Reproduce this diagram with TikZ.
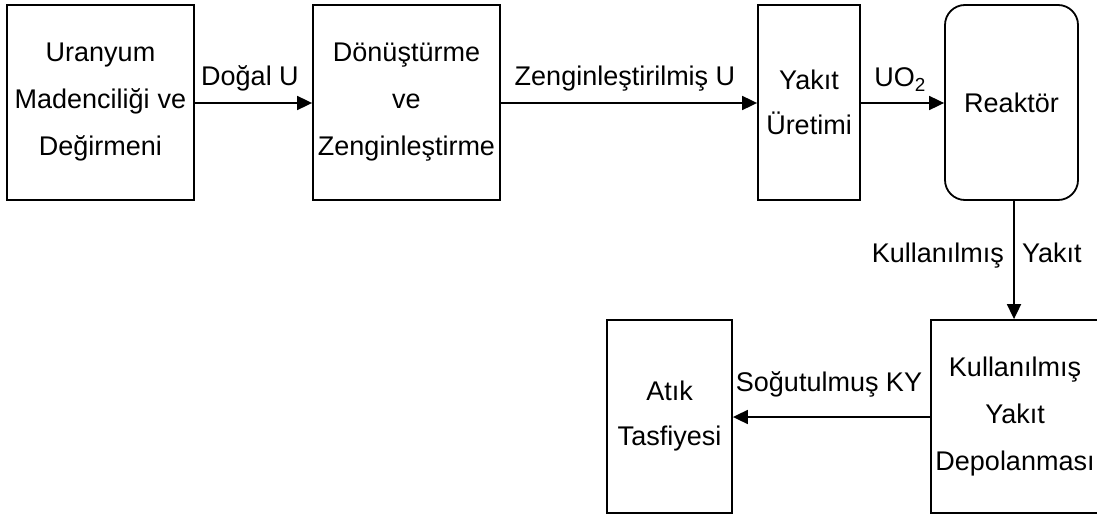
\documentclass[tikz,border=0pt]{standalone}
\usepackage{fontspec}
\setmainfont{Liberation Sans}
\usetikzlibrary{arrows.meta}
\begin{document}
\begin{tikzpicture}[x=1pt,y=-1pt,
  box/.style={draw,line width=1.8pt,inner sep=0pt,align=center,font=\fontsize{27}{47}\selectfont},
  lbl/.style={inner sep=0pt,anchor=base,font=\fontsize{27}{30}\selectfont},
  arr/.style={line width=1.8pt,-{Triangle[length=15pt,width=14pt]}}]
\useasboundingbox (0,0) rectangle (1097,516);
\node[box,minimum width=187pt,minimum height=195pt] (mine) at (100.5,102.5) {Uranyum\\Madenciliği\hspace{8pt}ve\\Değirmeni};
\node[box,minimum width=187pt,minimum height=195pt] (conv) at (406.5,102.5) {Dönüştürme\\ve\\Zenginleştirme};
\node[box,minimum width=102pt,minimum height=195pt,font=\fontsize{27}{45}\selectfont] (fab) at (809,102.5) {Yakıt\\Üretimi};
\node[box,rounded corners=20pt,minimum width=133pt,minimum height=195pt] (reac) at (1011.5,102.5) {Reaktör};
\node[box,minimum width=168pt,minimum height=193pt] (stor) at (1015,416.5) {Kullanılmış\\Yakıt\\Depolanması};
\node[box,minimum width=125pt,minimum height=193pt,font=\fontsize{27}{45}\selectfont] (waste) at (669.5,416.5) {Atık\\Tasfiyesi};
\draw[arr] (mine.east |- 0,103) -- (conv.west |- 0,103);
\node[lbl] (l1) at (250,86) {Doğal U};
\draw[arr] (conv.east |- 0,103) -- (fab.west |- 0,103);
\node[lbl] (l2) at (625,86) {Zenginleştirilmiş U};
\draw[arr] (fab.east |- 0,103) -- (reac.west |- 0,103);
\node[lbl] (l3) at (900,87) {UO\textsubscript{2}};
\draw[arr] (reac.south -| 1014,0) -- (stor.north -| 1014,0);
\node[lbl,anchor=base east] (l4a) at (1004,262) {Kullanılmış};
\node[lbl,anchor=base west] (l4b) at (1022,262) {Yakıt};
\draw[arr] (stor.west |- 0,417) -- (waste.east |- 0,417);
\node[lbl] (l5) at (829,391) {Soğutulmuş KY};
\end{tikzpicture}
\end{document}
